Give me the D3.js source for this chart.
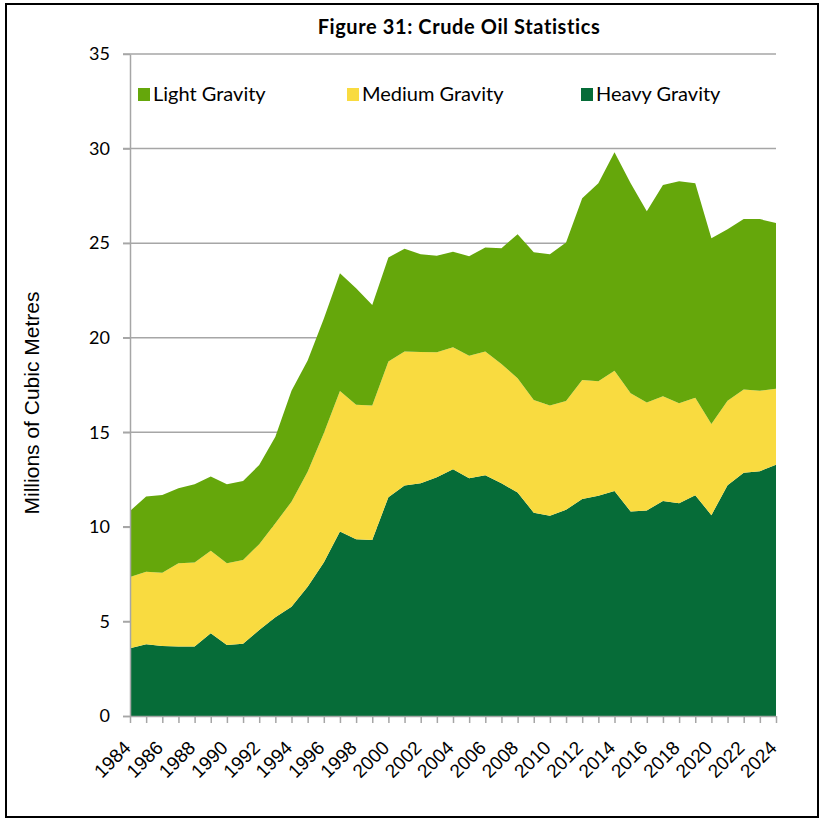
<!DOCTYPE html>
<html>
<head>
<meta charset="utf-8">
<script src="https://cdn.jsdelivr.net/npm/d3@7"></script>
<style>
  html, body { margin: 0; padding: 0; background: #fff; }
  svg { display: block; }
</style>
</head>
<body>
<svg id="chart" width="825" height="820"></svg>
<script>
const years = d3.range(1984, 2025);
const heavy = [3.58,3.79,3.70,3.67,3.67,4.37,3.75,3.82,4.55,5.22,5.78,6.84,8.11,9.75,9.34,9.31,11.57,12.18,12.30,12.62,13.05,12.57,12.73,12.30,11.81,10.75,10.59,10.91,11.47,11.65,11.90,10.81,10.87,11.37,11.25,11.67,10.62,12.20,12.86,12.94,13.29];
const medium = [3.77,3.84,3.88,4.40,4.44,4.37,4.32,4.43,4.53,4.97,5.55,6.08,6.84,7.43,7.11,7.10,7.17,7.09,6.95,6.61,6.45,6.48,6.54,6.31,6.05,5.96,5.82,5.74,6.29,6.05,6.35,6.25,5.70,5.53,5.28,5.16,4.82,4.47,4.40,4.26,4.01];
const light = [3.49,3.97,4.11,3.97,4.14,3.92,4.18,4.18,4.19,4.58,5.87,5.88,6.05,6.23,6.17,5.32,5.50,5.44,5.16,5.11,5.05,5.26,5.50,6.12,7.61,7.81,8.00,8.39,9.62,10.47,11.55,11.11,10.12,11.18,11.74,11.34,9.82,9.06,9.01,9.07,8.77];
const yTicks = [0,5,10,15,20,25,30,35];
const xLabelYears = d3.range(1984, 2025, 2);
const seriesNames = ["Heavy Gravity","Medium Gravity","Light Gravity"];
const legendOrder = ["Light Gravity","Medium Gravity","Heavy Gravity"];
const colors = {"Light Gravity":"#65A70B","Medium Gravity":"#F9DB40","Heavy Gravity":"#066C38"};
const titleText = "Figure 31: Crude Oil Statistics";
const yTitle = "Millions of Cubic Metres";

const svg = d3.select("#chart");
const L = 130, R = 776, T = 54, B = 716;

// border
svg.append("rect").attr("x",6).attr("y",4).attr("width",812).attr("height",813)
  .attr("fill","none").attr("stroke","#000").attr("stroke-width",2);

const x = d3.scaleLinear().domain([1984,2024]).range([L,R]);
const y = d3.scaleLinear().domain([0,35]).range([B,T]);

const table = years.map((yr,i)=>({year:yr,"Heavy Gravity":heavy[i],"Medium Gravity":medium[i],"Light Gravity":light[i]}));
const stacked = d3.stack().keys(seriesNames)(table);

// gridlines
svg.append("g").selectAll("line").data(yTicks.filter(d=>d>0)).join("line")
  .attr("x1",L-7).attr("x2",R).attr("y1",d=>y(d)).attr("y2",d=>y(d))
  .attr("stroke","#A6A6A6").attr("stroke-width",1.5);

// areas
const area = d3.area().x(d=>x(d.data.year)).y0(d=>y(d[0])).y1(d=>y(d[1]));
svg.append("g").selectAll("path").data(stacked).join("path")
  .attr("d",area).attr("fill",d=>colors[d.key]);

// y axis
const yAxis = d3.axisLeft(y).tickValues(yTicks).tickSize(7).tickSizeOuter(0).tickPadding(13);
const gy = svg.append("g").attr("transform",`translate(${L},0)`).call(yAxis);
gy.select(".domain").attr("stroke","#A6A6A6").attr("stroke-width",1.5);
gy.selectAll(".tick line").attr("stroke","#A6A6A6").attr("stroke-width",1.5);
gy.selectAll(".tick text").attr("font-family","Lato, 'Open Sans', sans-serif").attr("font-size",18).attr("fill","#000");

// x axis
const xAxis = d3.axisBottom(x).tickValues(years).tickSize(7).tickSizeOuter(0).tickFormat("");
const gx = svg.append("g").attr("transform",`translate(0,${B})`).call(xAxis);
gx.select(".domain").attr("stroke","#A6A6A6").attr("stroke-width",1.5).attr("d",`M${L-7},0.5H${R}`);
gx.selectAll(".tick line").attr("stroke","#A6A6A6").attr("stroke-width",1.5);

svg.append("g").selectAll("text").data(xLabelYears).join("text")
  .attr("transform",d=>`translate(${x(d)+2},${B+33}) rotate(-45)`)
  .attr("text-anchor","end")
  .attr("font-family","'Liberation Sans', Arial, sans-serif").attr("font-size",19)
  .attr("fill","#000").text(d=>d);

// title
svg.append("text").attr("x",459).attr("y",34).attr("text-anchor","middle")
  .attr("font-family","Lato, sans-serif").attr("font-weight","bold").attr("font-size",20)
  .attr("letter-spacing",0.6)
  .attr("fill","#000").text(titleText);

// y title
svg.append("text").attr("transform",`translate(39,403) rotate(-90)`).attr("text-anchor","middle")
  .attr("font-family","'Liberation Sans', Arial, sans-serif").attr("font-size",21)
  .attr("fill","#000").text(yTitle);

// legend
const legendX = [138, 347, 581];
const lg = svg.append("g").selectAll("g").data(legendOrder).join("g")
  .attr("transform",(d,i)=>`translate(${legendX[i]},88)`);
lg.append("rect").attr("width",12).attr("height",13).attr("fill",d=>colors[d]);
lg.append("text").attr("x",15).attr("y",13).attr("font-family","Lato, sans-serif").attr("font-size",20)
  .attr("fill","#000").text(d=>d);
</script>
</body>
</html>
